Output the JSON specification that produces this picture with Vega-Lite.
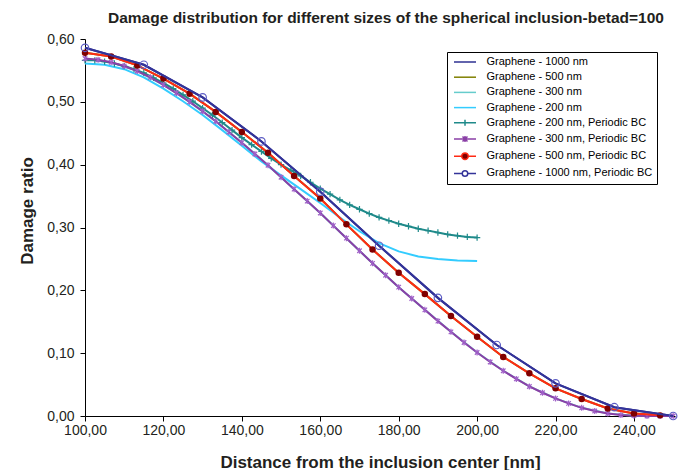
{
  "$schema": "https://vega.github.io/schema/vega-lite/v6.json",
  "width": 590,
  "height": 377,
  "autosize": {"type": "none"},
  "padding": {"left": 85, "top": 39, "right": 11, "bottom": 54},
  "background": "white",
  "title": {"text": "Damage distribution for different sizes of the spherical inclusion-betad=100", "anchor": "middle", "frame": "group", "dx": 6, "offset": -6, "baseline": "alphabetic", "fontSize": 15.5, "fontWeight": "bold", "font": "Liberation Sans", "color": "#231F20"},
  "datasets": {
    "g1000": [{"x":100,"y":0.586},{"x":115,"y":0.559},{"x":130,"y":0.507},{"x":145,"y":0.437},{"x":160,"y":0.357},{"x":175,"y":0.271},{"x":190,"y":0.188},{"x":205,"y":0.113},{"x":220,"y":0.052},{"x":235,"y":0.014},{"x":250,"y":0.0}],
    "g500": [{"x":100,"y":0.578},{"x":106.67,"y":0.572},{"x":113.33,"y":0.558},{"x":120,"y":0.537},{"x":126.67,"y":0.513},{"x":133.33,"y":0.484},{"x":140,"y":0.452},{"x":146.67,"y":0.419},{"x":153.33,"y":0.382},{"x":160,"y":0.346},{"x":166.67,"y":0.305},{"x":173.33,"y":0.265},{"x":180,"y":0.228},{"x":186.67,"y":0.194},{"x":193.33,"y":0.159},{"x":200,"y":0.126},{"x":206.67,"y":0.094},{"x":213.33,"y":0.068},{"x":220,"y":0.044},{"x":226.67,"y":0.027},{"x":233.33,"y":0.012},{"x":240,"y":0.004},{"x":246.67,"y":0.001}],
    "g300": [{"x":100,"y":0.569},{"x":106.67,"y":0.563},{"x":113.33,"y":0.549},{"x":120,"y":0.527},{"x":126.67,"y":0.5},{"x":133.33,"y":0.469},{"x":140,"y":0.435},{"x":146.67,"y":0.399},{"x":153.33,"y":0.361},{"x":160,"y":0.323},{"x":166.67,"y":0.283},{"x":173.33,"y":0.243},{"x":180,"y":0.205},{"x":186.67,"y":0.169},{"x":193.33,"y":0.134},{"x":200,"y":0.101},{"x":206.67,"y":0.072},{"x":213.33,"y":0.047},{"x":220,"y":0.028},{"x":226.67,"y":0.013},{"x":233.33,"y":0.004},{"x":240,"y":0.0005},{"x":246.67,"y":0},{"x":250,"y":0}],
    "g200": [{"x":100,"y":0.561},{"x":105,"y":0.559},{"x":110,"y":0.552},{"x":115,"y":0.539},{"x":120,"y":0.521},{"x":125,"y":0.501},{"x":130,"y":0.479},{"x":135,"y":0.455},{"x":140,"y":0.43},{"x":145,"y":0.405},{"x":150,"y":0.383},{"x":155,"y":0.361},{"x":160,"y":0.339},{"x":165,"y":0.316},{"x":170,"y":0.294},{"x":175,"y":0.275},{"x":180,"y":0.262},{"x":185,"y":0.254},{"x":190,"y":0.25},{"x":195,"y":0.2475},{"x":200,"y":0.2465}],
    "p200": [{"x":100,"y":0.566},{"x":102.5,"y":0.566},{"x":105,"y":0.564},{"x":107.5,"y":0.561},{"x":110,"y":0.557},{"x":112.5,"y":0.552},{"x":115,"y":0.546},{"x":117.5,"y":0.538},{"x":120,"y":0.53},{"x":122.5,"y":0.521},{"x":125,"y":0.511},{"x":127.5,"y":0.501},{"x":130,"y":0.49},{"x":132.5,"y":0.479},{"x":135,"y":0.467},{"x":137.5,"y":0.455},{"x":140,"y":0.443},{"x":142.5,"y":0.432},{"x":145,"y":0.421},{"x":147.5,"y":0.41},{"x":150,"y":0.4},{"x":152.5,"y":0.391},{"x":155,"y":0.382},{"x":157.5,"y":0.372},{"x":160,"y":0.362},{"x":162.5,"y":0.353},{"x":165,"y":0.344},{"x":167.5,"y":0.336},{"x":170,"y":0.329},{"x":172.5,"y":0.322},{"x":175,"y":0.316},{"x":177.5,"y":0.311},{"x":180,"y":0.306},{"x":182.5,"y":0.302},{"x":185,"y":0.298},{"x":187.5,"y":0.295},{"x":190,"y":0.292},{"x":192.5,"y":0.289},{"x":195,"y":0.287},{"x":197.5,"y":0.285},{"x":200,"y":0.284}],
    "p300": [{"x":100,"y":0.569},{"x":103.33,"y":0.567},{"x":106.67,"y":0.563},{"x":110,"y":0.557},{"x":113.33,"y":0.549},{"x":116.67,"y":0.539},{"x":120,"y":0.527},{"x":123.33,"y":0.514},{"x":126.67,"y":0.5},{"x":130,"y":0.485},{"x":133.33,"y":0.469},{"x":136.67,"y":0.452},{"x":140,"y":0.435},{"x":143.33,"y":0.417},{"x":146.67,"y":0.399},{"x":150,"y":0.38},{"x":153.33,"y":0.361},{"x":156.67,"y":0.342},{"x":160,"y":0.323},{"x":163.33,"y":0.303},{"x":166.67,"y":0.283},{"x":170,"y":0.263},{"x":173.33,"y":0.243},{"x":176.67,"y":0.224},{"x":180,"y":0.205},{"x":183.33,"y":0.187},{"x":186.67,"y":0.169},{"x":190,"y":0.151},{"x":193.33,"y":0.134},{"x":196.67,"y":0.117},{"x":200,"y":0.101},{"x":203.33,"y":0.086},{"x":206.67,"y":0.072},{"x":210,"y":0.059},{"x":213.33,"y":0.047},{"x":216.67,"y":0.037},{"x":220,"y":0.028},{"x":223.33,"y":0.02},{"x":226.67,"y":0.013},{"x":230,"y":0.008},{"x":233.33,"y":0.004},{"x":236.67,"y":0.0015},{"x":240,"y":0.0005},{"x":243.33,"y":0},{"x":246.67,"y":0},{"x":250,"y":0}],
    "p500": [{"x":100,"y":0.578},{"x":106.67,"y":0.572},{"x":113.33,"y":0.558},{"x":120,"y":0.537},{"x":126.67,"y":0.513},{"x":133.33,"y":0.484},{"x":140,"y":0.452},{"x":146.67,"y":0.419},{"x":153.33,"y":0.382},{"x":160,"y":0.346},{"x":166.67,"y":0.305},{"x":173.33,"y":0.265},{"x":180,"y":0.228},{"x":186.67,"y":0.194},{"x":193.33,"y":0.159},{"x":200,"y":0.126},{"x":206.67,"y":0.094},{"x":213.33,"y":0.068},{"x":220,"y":0.044},{"x":226.67,"y":0.027},{"x":233.33,"y":0.012},{"x":240,"y":0.004},{"x":246.67,"y":0.001}],
    "p1000": [{"x":100,"y":0.586},{"x":115,"y":0.559},{"x":130,"y":0.507},{"x":145,"y":0.437},{"x":160,"y":0.357},{"x":175,"y":0.271},{"x":190,"y":0.188},{"x":205,"y":0.113},{"x":220,"y":0.052},{"x":235,"y":0.014},{"x":250,"y":0.0}]
  },
  "encoding": {
    "x": {"field": "x", "type": "quantitative", "scale": {"domain": [100, 250.47], "nice": false, "zero": false}, "axis": {"title": "Distance from the inclusion center [nm]", "values": [100,120,140,160,180,200,220,240], "titleX": 295, "titleY": 51, "titleBaseline": "alphabetic", "titleAlign": "center", "labelPadding": 2}},
    "y": {"field": "y", "type": "quantitative", "scale": {"domain": [0, 0.6], "nice": false}, "axis": {"title": "Damage ratio", "values": [0,0.1,0.2,0.3,0.4,0.5,0.6], "titleX": -53, "titleY": 171.5, "titleBaseline": "alphabetic", "titleAlign": "center", "titleAngle": 270, "labelPadding": 6}}
  },
  "layer": [
    {"data": {"name": "g1000"}, "mark": {"type": "line", "strokeWidth": 2},
     "encoding": {"stroke": {"datum": "Graphene - 1000 nm", "type": "nominal",
       "scale": {"domain": ["Graphene - 1000 nm","Graphene - 500 nm","Graphene - 300 nm","Graphene - 200 nm","Graphene - 200 nm, Periodic BC","Graphene - 300 nm, Periodic BC","Graphene - 500 nm, Periodic BC","Graphene - 1000 nm, Periodic BC"],
                 "range": ["#2E3192","#808000","#66CCCC","#33CCFF","#1F8A8A","#8A3FA6","#FF2A14","#333399"]},
       "legend": {"orient": "none", "legendX": 362, "legendY": 13, "title": null, "padding": 4, "strokeColor": "#000000", "fillColor": "#ffffff", "cornerRadius": 0,
         "labelFontSize": 11, "labelFont": "Liberation Sans", "labelColor": "#000000", "labelLimit": 300, "symbolSize": 100, "symbolStrokeWidth": 1.5, "symbolOffset": 8, "labelOffset": 15.5, "rowPadding": 4.2,
         "encode": {"symbols": {"update": {
           "shape": {"signal": "datum.value == 'Graphene - 200 nm, Periodic BC' ? 'M-2.2,0H2.2M0,-0.6V0.6' : datum.value == 'Graphene - 300 nm, Periodic BC' ? 'M-2.2,0H2.2M-0.5,-0.5L0.5,0.5M-0.5,0.5L0.5,-0.5M0,-0.6V0.6' : datum.value == 'Graphene - 500 nm, Periodic BC' ? 'M-2.2,0H-0.65M0.65,0H2.2M0.65,0A0.65,0.65 0 1,1 -0.65,0A0.65,0.65 0 1,1 0.65,0Z' : datum.value == 'Graphene - 1000 nm, Periodic BC' ? 'M-2.2,0H-0.55M0.55,0H2.2M0.55,0A0.55,0.55 0 1,1 -0.55,0A0.55,0.55 0 1,1 0.55,0Z' : 'M-2.2,0H2.2'"},
           "fill": {"signal": "datum.value == 'Graphene - 500 nm, Periodic BC' ? '#800000' : datum.value == 'Graphene - 1000 nm, Periodic BC' ? '#ffffff' : 'transparent'"}
         }}}}}}},
    {"data": {"name": "g500"}, "mark": {"type": "line", "strokeWidth": 2}, "encoding": {"stroke": {"datum": "Graphene - 500 nm", "type": "nominal"}}},
    {"data": {"name": "g300"}, "mark": {"type": "line", "strokeWidth": 2}, "encoding": {"stroke": {"datum": "Graphene - 300 nm", "type": "nominal"}}},
    {"data": {"name": "g200"}, "mark": {"type": "line", "strokeWidth": 2}, "encoding": {"stroke": {"datum": "Graphene - 200 nm", "type": "nominal"}}},
    {"data": {"name": "p200"}, "mark": {"type": "line", "strokeWidth": 2}, "encoding": {"stroke": {"datum": "Graphene - 200 nm, Periodic BC", "type": "nominal"}}},
    {"data": {"name": "p200"}, "mark": {"type": "point", "shape": "M0,-1V1M-1,0H1", "size": 40, "filled": false, "stroke": "#1F8A8A", "strokeWidth": 1.2, "opacity": 1}},
    {"data": {"name": "p300"}, "mark": {"type": "line", "strokeWidth": 2}, "encoding": {"stroke": {"datum": "Graphene - 300 nm, Periodic BC", "type": "nominal"}}},
    {"data": {"name": "p300"}, "mark": {"type": "point", "shape": "M-0.75,-0.75L0.75,0.75M-0.75,0.75L0.75,-0.75M0,-1V1", "size": 36, "filled": false, "stroke": "#A060C8", "strokeWidth": 1.2, "opacity": 1}},
    {"data": {"name": "p500"}, "mark": {"type": "line", "strokeWidth": 2}, "encoding": {"stroke": {"datum": "Graphene - 500 nm, Periodic BC", "type": "nominal"}}},
    {"data": {"name": "p500"}, "mark": {"type": "point", "shape": "circle", "size": 42, "filled": true, "fill": "#800000", "opacity": 1}},
    {"data": {"name": "p1000"}, "mark": {"type": "line", "strokeWidth": 2}, "encoding": {"stroke": {"datum": "Graphene - 1000 nm, Periodic BC", "type": "nominal"}}},
    {"data": {"name": "p1000"}, "mark": {"type": "point", "shape": "circle", "size": 56, "filled": false, "stroke": "#5C5CC4", "strokeWidth": 1.2, "opacity": 1}}
  ],
  "config": {
    "view": {"stroke": null},
    "font": "Liberation Sans",
    "axis": {"grid": false, "domainColor": "#000000", "tickColor": "#000000", "tickSize": 5, "domainWidth": 1, "tickWidth": 1, "labelFontSize": 14, "labelColor": "#231F20", "labelFont": "Liberation Sans", "labelExpr": "replace(format(datum.value, '.2f'), '.', ',')", "labelFlush": false, "labelOverlap": false, "titleFontSize": 17, "titleFontWeight": "bold", "titleColor": "#231F20", "titleFont": "Liberation Sans"}
  }
}
